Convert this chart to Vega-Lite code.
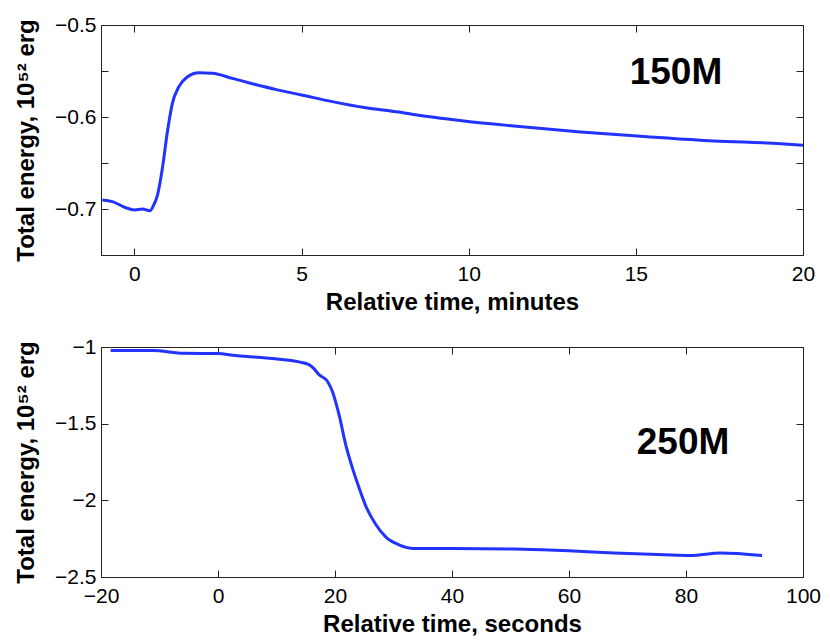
{
  "$schema": "https://vega.github.io/schema/vega-lite/v6.json",
  "background": "white",
  "padding": {"left": 14, "top": 14, "right": 5, "bottom": 5},
  "spacing": 22,
  "config": {
    "view": {"stroke": null},
    "axis": {
      "labelFont": "Liberation Sans", "labelFontSize": 21, "labelColor": "black",
      "titleFont": "Liberation Sans", "titleFontSize": 24, "titleFontWeight": "bold", "titleColor": "black",
      "domainColor": "#222222", "tickColor": "#222222", "grid": false, "tickSize": -7,
      "labelFlush": false, "labelOverlap": false
    },
    "axisX": {"labelPadding": 15, "titlePadding": 6},
    "axisY": {"labelPadding": 12, "titlePadding": 16, "format": "~g"}
  },
  "datasets": {
    "m150": [
      {"t": -0.96, "E": -0.6903}, {"t": -0.66, "E": -0.692}, {"t": -0.26, "E": -0.6986}, {"t": 0, "E": -0.701},
      {"t": 0.24, "E": -0.700}, {"t": 0.46, "E": -0.702}, {"t": 0.56, "E": -0.697}, {"t": 0.69, "E": -0.685},
      {"t": 0.84, "E": -0.655}, {"t": 0.99, "E": -0.615}, {"t": 1.03, "E": -0.606}, {"t": 1.13, "E": -0.586},
      {"t": 1.33, "E": -0.567}, {"t": 1.58, "E": -0.5565}, {"t": 1.93, "E": -0.552}, {"t": 2.33, "E": -0.5525},
      {"t": 2.93, "E": -0.558}, {"t": 3.53, "E": -0.5638}, {"t": 4.22, "E": -0.570}, {"t": 5, "E": -0.576},
      {"t": 5.92, "E": -0.5833}, {"t": 6.92, "E": -0.590}, {"t": 7.91, "E": -0.5946}, {"t": 8.31, "E": -0.597},
      {"t": 9.86, "E": -0.6043}, {"t": 11.35, "E": -0.6098}, {"t": 13.35, "E": -0.6163}, {"t": 15.34, "E": -0.6214},
      {"t": 17.34, "E": -0.626}, {"t": 19.33, "E": -0.629}, {"t": 20, "E": -0.6308}
    ],
    "m250": [
      {"t": -18.35, "E": -1.023}, {"t": -11.2, "E": -1.023}, {"t": -5.8, "E": -1.041}, {"t": 0, "E": -1.043},
      {"t": 2.5, "E": -1.054}, {"t": 8.2, "E": -1.071}, {"t": 13.85, "E": -1.097}, {"t": 15.56, "E": -1.115},
      {"t": 16.4, "E": -1.141}, {"t": 17.26, "E": -1.18}, {"t": 18.7, "E": -1.223}, {"t": 19.54, "E": -1.288},
      {"t": 20.68, "E": -1.44}, {"t": 21.82, "E": -1.635}, {"t": 22.96, "E": -1.787}, {"t": 24.1, "E": -1.917},
      {"t": 25.25, "E": -2.036}, {"t": 26.95, "E": -2.156}, {"t": 28.66, "E": -2.238}, {"t": 30.94, "E": -2.29},
      {"t": 33.5, "E": -2.314}, {"t": 40.05, "E": -2.314}, {"t": 50.6, "E": -2.318}, {"t": 60, "E": -2.329},
      {"t": 67.7, "E": -2.344}, {"t": 76.2, "E": -2.355}, {"t": 80.8, "E": -2.36}, {"t": 85.9, "E": -2.344},
      {"t": 93.0, "E": -2.36}
    ],
    "ann150": [{"x": 16.2, "y": -0.552, "label": "150M"}],
    "ann250": [{"x": 79.5, "y": -1.625, "label": "250M"}]
  },
  "vconcat": [
    {
      "width": 702, "height": 230,
      "layer": [
        {
          "data": {"name": "m150"},
          "mark": {"type": "line", "color": "#2233ff", "strokeWidth": 3, "clip": true, "interpolate": "monotone"},
          "encoding": {
            "x": {"field": "t", "type": "quantitative", "scale": {"domain": [-1, 20], "nice": false, "zero": false},
                  "axis": {"orient": "bottom", "values": [0, 5, 10, 15, 20], "title": "Relative time, minutes"}},
            "y": {"field": "E", "type": "quantitative", "scale": {"domain": [-0.75, -0.5], "nice": false, "zero": false},
                  "axis": {"orient": "left", "values": [-0.75, -0.7, -0.65, -0.6, -0.55, -0.5],
                           "labelExpr": "abs(round(datum.value*20)) % 2 == 1 ? '' : datum.label",
                           "title": "Total energy, 10⁵² erg"}}
          }
        },
        {
          "data": {"name": "m150"},
          "mark": {"type": "line", "opacity": 0},
          "encoding": {
            "x": {"field": "t", "type": "quantitative", "scale": {"domain": [-1, 20], "nice": false, "zero": false},
                  "axis": {"orient": "top", "values": [0, 5, 10, 15, 20], "labels": false, "title": null}},
            "y": {"field": "E", "type": "quantitative", "scale": {"domain": [-0.75, -0.5], "nice": false, "zero": false},
                  "axis": {"orient": "right", "values": [-0.75, -0.7, -0.65, -0.6, -0.55, -0.5], "labels": false, "title": null}}
          }
        },
        {
          "data": {"name": "ann150"},
          "mark": {"type": "text", "font": "Liberation Sans", "fontSize": 37, "fontWeight": "bold", "color": "black", "align": "center", "baseline": "middle"},
          "encoding": {
            "x": {"field": "x", "type": "quantitative", "scale": {"domain": [-1, 20], "nice": false, "zero": false}, "axis": null},
            "y": {"field": "y", "type": "quantitative", "scale": {"domain": [-0.75, -0.5], "nice": false, "zero": false}, "axis": null},
            "text": {"field": "label"}
          }
        }
      ],
      "resolve": {"axis": {"x": "independent", "y": "independent"}}
    },
    {
      "width": 702, "height": 230,
      "layer": [
        {
          "data": {"name": "m250"},
          "mark": {"type": "line", "color": "#2233ff", "strokeWidth": 3, "clip": true, "interpolate": "monotone"},
          "encoding": {
            "x": {"field": "t", "type": "quantitative", "scale": {"domain": [-20, 100], "nice": false, "zero": false},
                  "axis": {"orient": "bottom", "values": [-20, 0, 20, 40, 60, 80, 100], "title": "Relative time, seconds"}},
            "y": {"field": "E", "type": "quantitative", "scale": {"domain": [-2.5, -1], "nice": false, "zero": false},
                  "axis": {"orient": "left", "values": [-2.5, -2, -1.5, -1], "title": "Total energy, 10⁵² erg"}}
          }
        },
        {
          "data": {"name": "m250"},
          "mark": {"type": "line", "opacity": 0},
          "encoding": {
            "x": {"field": "t", "type": "quantitative", "scale": {"domain": [-20, 100], "nice": false, "zero": false},
                  "axis": {"orient": "top", "values": [-20, 0, 20, 40, 60, 80, 100], "labels": false, "title": null}},
            "y": {"field": "E", "type": "quantitative", "scale": {"domain": [-2.5, -1], "nice": false, "zero": false},
                  "axis": {"orient": "right", "values": [-2.5, -2, -1.5, -1], "labels": false, "title": null}}
          }
        },
        {
          "data": {"name": "ann250"},
          "mark": {"type": "text", "font": "Liberation Sans", "fontSize": 37, "fontWeight": "bold", "color": "black", "align": "center", "baseline": "middle"},
          "encoding": {
            "x": {"field": "x", "type": "quantitative", "scale": {"domain": [-20, 100], "nice": false, "zero": false}, "axis": null},
            "y": {"field": "y", "type": "quantitative", "scale": {"domain": [-2.5, -1], "nice": false, "zero": false}, "axis": null},
            "text": {"field": "label"}
          }
        }
      ],
      "resolve": {"axis": {"x": "independent", "y": "independent"}}
    }
  ]
}
